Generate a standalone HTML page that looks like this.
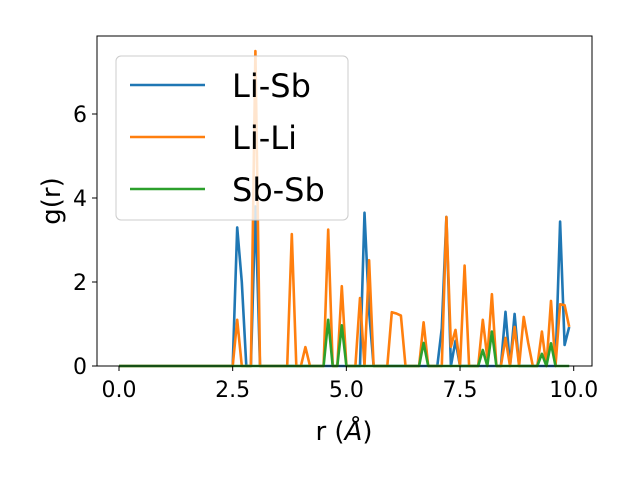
<!DOCTYPE html>
<html><head><meta charset="utf-8"><style>body{margin:0;background:#fff}svg{display:block;font-family:"DejaVu Sans","Liberation Sans",sans-serif}</style></head>
<body>
<svg id="chart" width="640" height="480">
<rect x="0" y="0" width="640" height="480" fill="#fff"/>
<g id="plot"></g>
<rect x="97" y="36" width="495" height="330" fill="none" stroke="#000" stroke-width="1"/>
<g id="axes"></g>
<g>
<rect x="116" y="56" width="232" height="164" rx="5" fill="#fff" fill-opacity="0.8" stroke="#ccc"/>
<g><line x1="130" y1="85" x2="205" y2="85" stroke="#1f77b4" stroke-width="2.6"/><text x="232" y="97" font-size="32">Li-Sb</text></g>
<g><line x1="130" y1="137" x2="205" y2="137" stroke="#ff7f0e" stroke-width="2.6"/><text x="232" y="149" font-size="32">Li-Li</text></g>
<g><line x1="130" y1="189" x2="205" y2="189" stroke="#2ca02c" stroke-width="2.6"/><text x="232" y="201" font-size="32">Sb-Sb</text></g>
</g>
<text x="0" y="0" font-size="26" text-anchor="middle" transform="translate(60,201) rotate(-90)">g(r)</text>
<text x="344" y="440" font-size="26" text-anchor="middle">r (<tspan font-style="italic">Å</tspan>)</text>
</svg>
<script>
const rValues = Array.from({length:100},(_, i)=>i/10);
const liSbPoints = {26:3.3,27:2.0,30:3.8,54:3.65,55:1.3,71:0.9,72:3.55,74:0.6,85:1.29,87:1.24,97:3.44,98:0.5,99:0.93};
const liLiPoints = {26:1.1,30:7.5,38:3.14,41:0.45,46:3.25,49:1.9,53:1.62,55:2.52,60:1.28,61:1.25,62:1.2,67:1.04,72:3.55,73:0.46,74:0.86,76:2.39,80:1.1,81:0.2,82:1.71,85:0.67,87:0.93,89:1.17,90:0.55,93:0.82,95:1.55,97:1.47,98:1.45,99:0.93};
const sbSbPoints = {46:1.1,49:0.97,67:0.55,80:0.38,82:0.82,93:0.29,95:0.54};
const xTicks = [0,2.5,5,7.5,10];
const xTickLabels = ["0.0","2.5","5.0","7.5","10.0"];
const yTicks = [0,2,4,6];
const yTickLabels = ["0","2","4","6"];
const ns="http://www.w3.org/2000/svg";
const X = v => 119 + v*45.47;
const Y = v => 366 - v*42;
function series(pts){return rValues.map((r,i)=>pts[i]||0);}
const plot=document.getElementById('plot'), axes=document.getElementById('axes');
[["li-sb",liSbPoints,"#1f77b4"],["li-li",liLiPoints,"#ff7f0e"],["sb-sb",sbSbPoints,"#2ca02c"]].forEach(([n,p,c])=>{
  const vals=series(p);
  const pl=document.createElementNS(ns,'polyline');
  pl.setAttribute('points',vals.map((v,i)=>X(rValues[i]).toFixed(1)+','+Y(v).toFixed(1)).join(' '));
  pl.setAttribute('fill','none');pl.setAttribute('stroke',c);pl.setAttribute('stroke-width','2.6');pl.setAttribute('stroke-linejoin','round');
  
  
  plot.appendChild(pl);
});
xTicks.forEach((t,i)=>{
  const l=document.createElementNS(ns,'line');
  l.setAttribute('x1',X(t));l.setAttribute('x2',X(t));l.setAttribute('y1',366);l.setAttribute('y2',371);l.setAttribute('stroke','#000');
  
  
  axes.appendChild(l);
  const tx=document.createElementNS(ns,'text');
  tx.setAttribute('x',X(t));tx.setAttribute('y',397);tx.setAttribute('font-size','22');tx.setAttribute('text-anchor','middle');
  tx.textContent=xTickLabels[i];
  
  
  axes.appendChild(tx);
});
yTicks.forEach((t,i)=>{
  const l=document.createElementNS(ns,'line');
  l.setAttribute('x1',92);l.setAttribute('x2',97);l.setAttribute('y1',Y(t));l.setAttribute('y2',Y(t));l.setAttribute('stroke','#000');
  
  
  axes.appendChild(l);
  const tx=document.createElementNS(ns,'text');
  tx.setAttribute('x',87);tx.setAttribute('y',Y(t)+8);tx.setAttribute('font-size','22');tx.setAttribute('text-anchor','end');
  tx.textContent=yTickLabels[i];
  
  
  axes.appendChild(tx);
});
</script>
</body></html>
